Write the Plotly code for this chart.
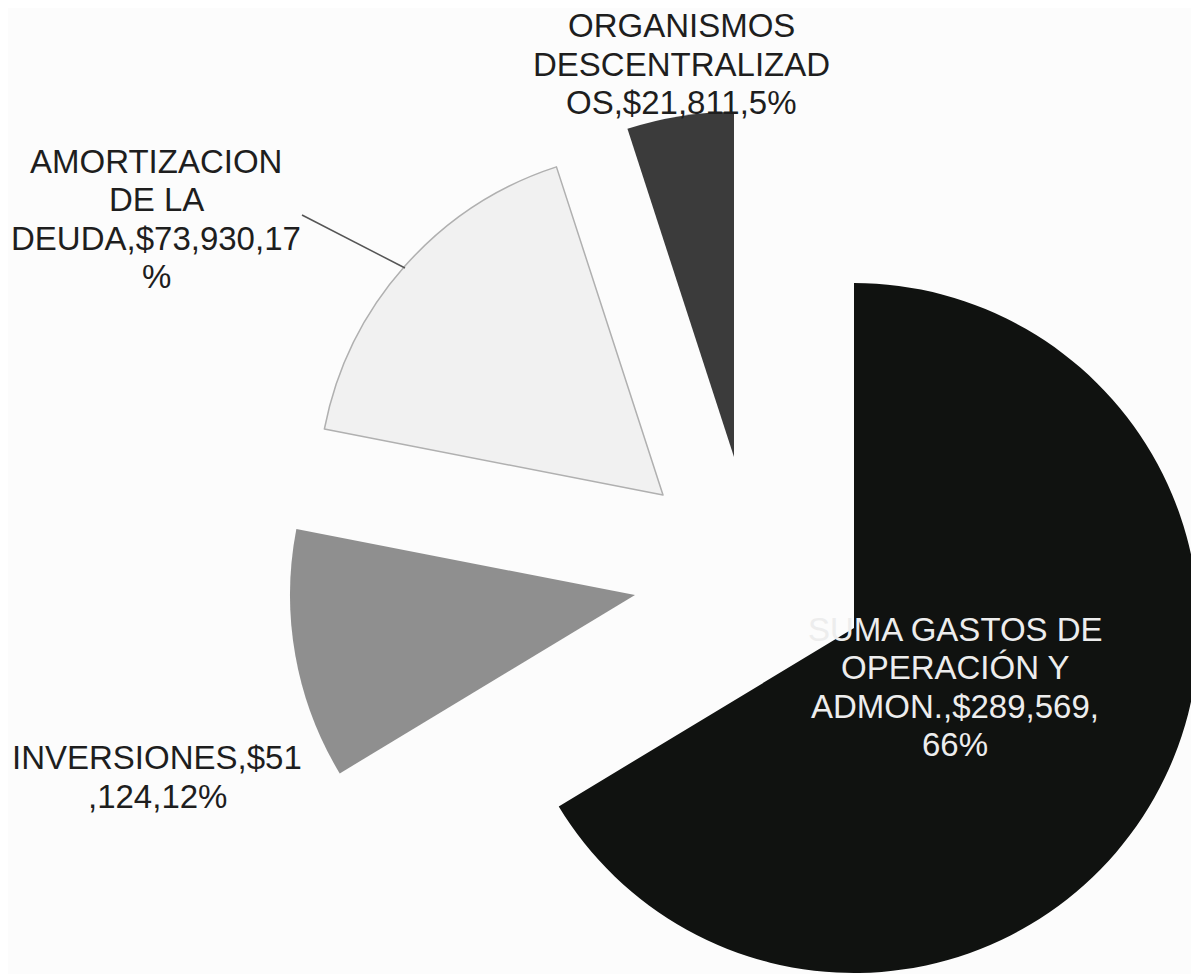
"""
plot.py
Exploded pie chart: distribution of expenditure by concept.
"""

import plotly.graph_objects as go


# ── Data ───────────────────────────────────────────────────────────────────────
LABELS = [
    "SUMA GASTOS DE OPERACIÓN Y ADMON.",
    "INVERSIONES",
    "AMORTIZACION DE LA DEUDA",
    "ORGANISMOS DESCENTRALIZADOS",
]
VALUES = [289569, 51124, 73930, 21811]

# ── Style / layout ─────────────────────────────────────────────────────────────
COLORS = ["#101210", "#8f8f8f", "#f1f1f1", "#3b3b3b"]
TEXT_COLORS = ["#ededed", "#1e1e1e", "#1e1e1e", "#1e1e1e"]

# characters on each wrapped line of the data labels (as the original wraps them)
LINE_LENGTHS = [[14, 11, 16, 3], [15, 8], [12, 5, 16, 1], [10, 14, 13]]

PAGE_W, PAGE_H = 1199, 974
BODY_MARGIN = 8                      # default <body> margin of the html page
W, H = PAGE_W - BODY_MARGIN, PAGE_H - BODY_MARGIN
RADIUS = 345
# tip of every exploded slice and centre of its label, in page pixels
APEX = [(854, 628), (635, 595), (663, 495), (734, 457)]
LABEL_POS = [(955, 687), (157, 777), (156, 219), (681, 64)]
LINE_GAP = 38.5
FONT = "Liberation Sans, Arial, sans-serif"
FONT_SIZE = 33


def px(x):
    return (x - BODY_MARGIN) / W


def py(y):
    return 1 - (y - BODY_MARGIN) / H


def wrap_label(text, lengths):
    lines, start = [], 0
    for n in lengths:
        lines.append(text[start:start + n].strip())
        start += n
        while start < len(text) and text[start] == " ":
            start += 1
    return lines


total = sum(VALUES)
fig = go.Figure()

# one pie per slice, only that slice painted, so each can sit at its own offset
for i, (ax, ay) in enumerate(APEX):
    fills = [COLORS[j] if j == i else "rgba(0,0,0,0)" for j in range(len(VALUES))]
    line_w = [1.5 if (j == i and j == 2) else 0 for j in range(len(VALUES))]
    fig.add_trace(go.Pie(
        labels=LABELS,
        values=VALUES,
        sort=False,
        direction="clockwise",
        rotation=0,
        textinfo="none",
        marker=dict(colors=fills, line=dict(color="#b0b0b0", width=line_w)),
        domain=dict(
            x=[max(0, px(ax - RADIUS)), min(1, px(ax + RADIUS))],
            y=[max(0, py(ay + RADIUS)), min(1, py(ay - RADIUS))],
        ),
        hovertemplate="<b>%{label}</b><br>$%{value:,}<br>%{percent}<extra></extra>",
        showlegend=False,
    ))

# data labels, one annotation per wrapped line
for i, (lx, ly) in enumerate(LABEL_POS):
    pct = round(VALUES[i] / total * 100)
    text = f"{LABELS[i]},${VALUES[i]:,},{pct}%"
    lines = wrap_label(text, LINE_LENGTHS[i])
    for k, line in enumerate(lines):
        y = ly + (k - (len(lines) - 1) / 2) * LINE_GAP
        fig.add_annotation(
            x=px(lx), y=py(y), xref="paper", yref="paper",
            text=line, showarrow=False,
            xanchor="center", yanchor="middle",
            font=dict(family=FONT, size=FONT_SIZE, color=TEXT_COLORS[i]),
        )

# leader line for the debt-amortisation label
fig.add_shape(
    type="line", xref="paper", yref="paper",
    x0=px(302), y0=py(215), x1=px(405), y1=py(268),
    line=dict(color="#555555", width=1.5),
)

fig.update_layout(
    width=W, height=H,
    margin=dict(l=0, r=0, t=0, b=0),
    paper_bgcolor="#fcfcfc",
    plot_bgcolor="#fcfcfc",
    font=dict(family=FONT),
)

fig.write_html("out.html")
